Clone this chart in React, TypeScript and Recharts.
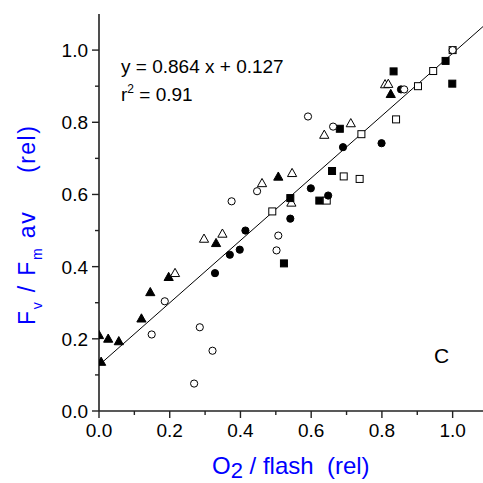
import React from 'react';
import { ScatterChart, Scatter, XAxis, YAxis, ReferenceLine } from 'recharts';

// ---- data (x = O2/flash rel, y = Fv/Fm av rel) ----
const filledTriangles: [number, number][] = [
  [0.0, 0.21], [0.026, 0.2], [0.056, 0.193], [0.006, 0.136], [0.12, 0.256],
  [0.145, 0.329], [0.197, 0.371], [0.331, 0.465], [0.507, 0.649], [0.825, 0.878],
];
const openTriangles: [number, number][] = [
  [0.215, 0.382], [0.297, 0.477], [0.349, 0.491], [0.461, 0.631], [0.546, 0.659],
  [0.544, 0.577], [0.637, 0.765], [0.712, 0.797], [0.809, 0.905], [0.818, 0.906],
];
const filledCircles: [number, number][] = [
  [0.328, 0.382], [0.37, 0.433], [0.398, 0.447], [0.414, 0.5], [0.541, 0.533],
  [0.599, 0.617], [0.648, 0.597], [0.69, 0.731], [0.799, 0.742], [0.854, 0.891],
];
const openCircles: [number, number][] = [
  [0.149, 0.212], [0.186, 0.304], [0.269, 0.076], [0.285, 0.232], [0.321, 0.167],
  [0.375, 0.581], [0.447, 0.609], [0.502, 0.445], [0.507, 0.486], [0.591, 0.816],
  [0.662, 0.788], [0.863, 0.891], [1.0, 1.0],
];
const filledSquares: [number, number][] = [
  [0.523, 0.409], [0.541, 0.59], [0.623, 0.583], [0.659, 0.665], [0.681, 0.782],
  [0.833, 0.941], [0.98, 0.97], [0.999, 0.907],
];
const openSquares: [number, number][] = [
  [0.49, 0.553], [0.644, 0.583], [0.692, 0.65], [0.737, 0.643], [0.742, 0.767],
  [0.84, 0.808], [0.902, 0.9], [0.945, 0.942], [1.0, 1.0],
];

const xTicks = [0, 0.1, 0.2, 0.3, 0.4, 0.5, 0.6, 0.7, 0.8, 0.9, 1.0, 1.1];
const yTicks = [0, 0.1, 0.2, 0.3, 0.4, 0.5, 0.6, 0.7, 0.8, 0.9, 1.0];
const xDomain: [number, number] = [0, 1.1];
const yDomain: [number, number] = [0, 1.1];

const slope = 0.864;
const intercept = 0.127;
const rSquared = '0.91';
const panelLetter = 'C';

const toPts = (arr: [number, number][]) => arr.map(([x, y]) => ({ x, y }));

const FONT = 'Arial, "Liberation Sans", sans-serif';
const AXIS_COLOR = '#222';

const isMajor = (v: number) => Math.round(v * 10) % 2 === 0;

const BottomTick = (props: any) => {
  const { x, y, payload } = props;
  const v = payload.value as number;
  const major = isMajor(v);
  return (
    <g>
      <line x1={x} x2={x} y1={y} y2={y + (major ? 7 : 4)} stroke={AXIS_COLOR} strokeWidth={1.4} />
      {major && (
        <text x={x} y={y + 26} textAnchor="middle" fontSize={19} fontFamily={FONT} fill="#000">
          {v.toFixed(1)}
        </text>
      )}
    </g>
  );
};

const TopTick = (props: any) => {
  const { x, y } = props;
  return <line x1={x} x2={x} y1={y} y2={y + 3} stroke={AXIS_COLOR} strokeWidth={1.4} />;
};

const LeftTick = (props: any) => {
  const { x, y, payload } = props;
  const v = payload.value as number;
  const major = isMajor(v);
  return (
    <g>
      <line x1={x - (major ? 7 : 4)} x2={x} y1={y} y2={y} stroke={AXIS_COLOR} strokeWidth={1.4} />
      {major && (
        <text x={x - 11} y={y + 7} textAnchor="end" fontSize={19} fontFamily={FONT} fill="#000">
          {v.toFixed(1)}
        </text>
      )}
    </g>
  );
};

const makeShape = (kind: 'circle' | 'square' | 'triangle', filled: boolean) => (props: any) => {
  const { cx, cy } = props;
  const fill = filled ? '#000' : '#fff';
  if (kind === 'circle') {
    return <circle cx={cx} cy={cy} r={3.6} fill={fill} stroke="#000" strokeWidth={1} />;
  }
  if (kind === 'square') {
    return <rect x={cx - 3.5} y={cy - 3.5} width={7} height={7} fill={fill} stroke="#000" strokeWidth={1} />;
  }
  const pts = `${cx},${cy - 4.8} ${cx - 4.6},${cy + 3.4} ${cx + 4.6},${cy + 3.4}`;
  return <polygon points={pts} fill={fill} stroke="#000" strokeWidth={1} />;
};

export default function App() {
  const xEnd = xDomain[1];
  return (
    <div style={{ position: 'absolute', left: 0, top: 0, width: 483, height: 483, overflow: 'hidden', background: '#fff' }}>
      <ScatterChart width={500} height={483} margin={{ top: 14, right: 12, bottom: 0, left: 0 }}>
        <XAxis
          xAxisId="bottom"
          dataKey="x"
          type="number"
          domain={xDomain}
          ticks={xTicks}
          allowDataOverflow
          height={72}
          tickSize={0}
          tickMargin={0}
          tickLine={false}
          interval={0}
          tick={(p: any) => <BottomTick {...p} />}
          axisLine={{ stroke: AXIS_COLOR, strokeWidth: 1.6 }}
        />
        <XAxis
          xAxisId="top"
          orientation="top"
          dataKey="x"
          type="number"
          domain={xDomain}
          ticks={xTicks}
          allowDataOverflow
          height={0}
          tickSize={0}
          tickMargin={0}
          tickLine={false}
          interval={0}
          tick={(p: any) => <TopTick {...p} />}
          axisLine={{ stroke: AXIS_COLOR, strokeWidth: 1.6 }}
        />
        <YAxis
          dataKey="y"
          type="number"
          domain={yDomain}
          ticks={yTicks}
          allowDataOverflow
          width={99}
          tickSize={0}
          tickMargin={0}
          tickLine={false}
          interval={0}
          tick={(p: any) => <LeftTick {...p} />}
          axisLine={{ stroke: AXIS_COLOR, strokeWidth: 1.6 }}
        />
        <Scatter xAxisId="bottom" data={toPts(filledTriangles)} shape={makeShape('triangle', true)} isAnimationActive={false} />
        <Scatter xAxisId="bottom" data={toPts(openTriangles)} shape={makeShape('triangle', false)} isAnimationActive={false} />
        <Scatter xAxisId="bottom" data={toPts(filledSquares)} shape={makeShape('square', true)} isAnimationActive={false} />
        <Scatter xAxisId="bottom" data={toPts(openSquares)} shape={makeShape('square', false)} isAnimationActive={false} />
        <Scatter xAxisId="bottom" data={toPts(filledCircles)} shape={makeShape('circle', true)} isAnimationActive={false} />
        <Scatter xAxisId="bottom" data={toPts(openCircles)} shape={makeShape('circle', false)} isAnimationActive={false} />
        <ReferenceLine
          xAxisId="bottom"
          segment={[
            { x: 0, y: intercept },
            { x: xEnd, y: slope * xEnd + intercept },
          ]}
          stroke="#000"
          strokeWidth={1}
          ifOverflow="hidden"
        />
      </ScatterChart>
      <svg
        width={483}
        height={483}
        style={{ position: 'absolute', left: 0, top: 0, pointerEvents: 'none' }}
        fontFamily={FONT}
      >
        <text x={121} y={73} fontSize={19} fill="#000" style={{ whiteSpace: 'pre' }}>
          {`y = ${slope} x + ${intercept}`}
        </text>
        <text x={121} y={101} fontSize={19} fill="#000" style={{ whiteSpace: 'pre' }}>
          r<tspan fontSize={12} dy={-8}>2</tspan>
          <tspan dy={8}>{` = ${rSquared}`}</tspan>
        </text>
        <text x={434} y={363} fontSize={21} fill="#000">{panelLetter}</text>
        <text x={212} y={474} fontSize={24} fill="#0000ff" style={{ whiteSpace: 'pre' }}>
          O<tspan fontSize={22} dy={4}>2</tspan>
          <tspan dy={-4}>{' / flash  (rel)'}</tspan>
        </text>
        <text
          transform="translate(35,325) rotate(-90)"
          fontSize={23}
          fill="#0000ff"
          letterSpacing={1.8}
          style={{ whiteSpace: 'pre' }}
        >
          F<tspan fontSize={14} dy={7}>v</tspan>
          <tspan dy={-7}>{' / F'}</tspan>
          <tspan fontSize={14} dy={7}>m</tspan>
          <tspan dy={-7}>{' av'}</tspan>
        </text>
        <text
          transform="translate(35,173) rotate(-90)"
          fontSize={23}
          fill="#0000ff"
          letterSpacing={1.5}
        >
          (rel)
        </text>
      </svg>
    </div>
  );
}
